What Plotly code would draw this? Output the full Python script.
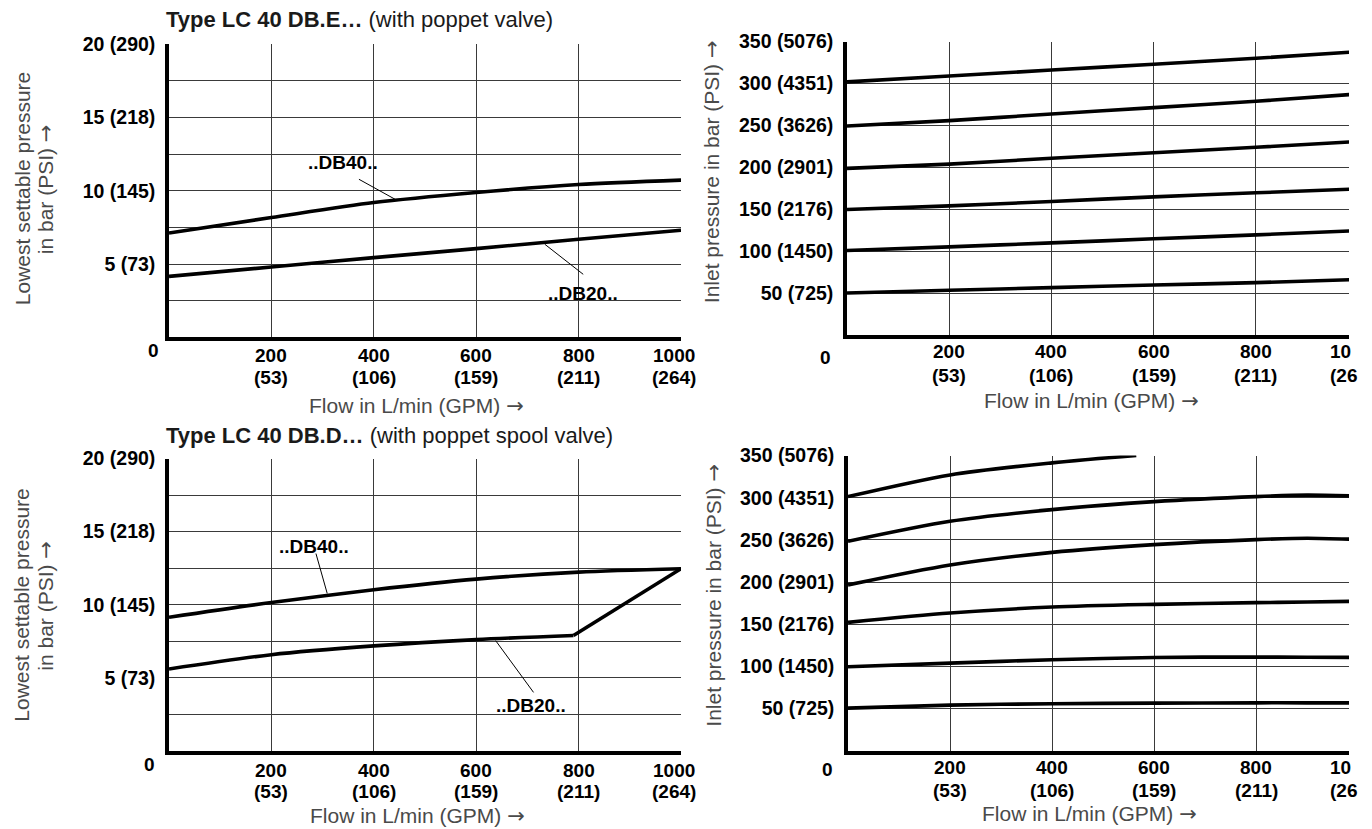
import plotly.graph_objects as go

W, H = 1372, 829

# ---------------- data ----------------
flow = [0, 200, 400, 600, 800, 1000]

# Type LC 40 DB.E... (poppet valve): lowest settable pressure [bar]
e_db40 = [7.12, 8.17, 9.19, 9.88, 10.42, 10.72]
e_db20 = [4.16, 4.80, 5.44, 6.05, 6.69, 7.30]

# Type LC 40 DB.E...: inlet pressure [bar]
e_p300 = [302.0, 309.0, 316.0, 323.0, 330.0, 338.0]
e_p250 = [249.4, 255.8, 263.7, 271.3, 278.9, 287.5]
e_p200 = [198.9, 204.0, 211.0, 217.6, 224.0, 231.0]
e_p150 = [150.0, 154.3, 159.5, 165.0, 169.8, 174.5]
e_p100 = [101.0, 105.4, 110.2, 115.0, 119.7, 124.7]
e_p50 = [50.5, 53.7, 56.9, 60.0, 62.8, 66.5]

# Type LC 40 DB.D... (poppet spool valve): lowest settable pressure [bar]
d_db40 = [9.14, 10.15, 11.02, 11.75, 12.23, 12.46]
d_db20_flow = [0, 200, 400, 600, 790, 1000]
d_db20 = [5.60, 6.58, 7.18, 7.61, 7.89, 12.46]

# Type LC 40 DB.D...: inlet pressure [bar]
d_flow = [0, 200, 400, 600, 800, 900, 1000]
d_p300_flow = [0, 200, 400, 565]
d_p300 = [301.3, 327.0, 341.3, 350.0]
d_p250 = [248.3, 272.0, 285.9, 295.4, 301.3, 303.0, 301.8]
d_p200 = [196.6, 220.3, 235.2, 244.4, 250.3, 252.0, 250.5]
d_p150 = [152.2, 163.3, 170.4, 173.6, 175.6, 176.4, 177.3]
d_p100 = [99.6, 104.0, 108.0, 110.7, 111.1, 111.0, 110.7]
d_p50 = [50.6, 54.2, 55.8, 56.5, 56.9, 56.9, 56.9]

# ticks
x_tickvals = [200, 400, 600, 800, 1000]
x_ticktext = ["200<br>(53)", "400<br>(106)", "600<br>(159)", "800<br>(211)", "1000<br>(264)"]
# right-hand charts are cut off in the source just before 1000 L/min
x_cut_text = "10<br>(26"
low_tickvals = [0, 2.5, 5, 7.5, 10, 12.5, 15, 17.5, 20]
low_ticktext = ["", "", "5 (73)", "", "10 (145)", "", "15 (218)", "", "20 (290)"]
inlet_tickvals = [0, 50, 100, 150, 200, 250, 300, 350]
inlet_ticktext = ["", "50 (725)", "100 (1450)", "150 (2176)", "200 (2901)",
                  "250 (3626)", "300 (4351)", "350 (5076)"]

# ---------------- helpers ----------------
FONT = "Liberation Sans, Arial, Helvetica, sans-serif"
ARROW = "<span style=\"font-family:'DejaVu Sans'\">→</span>"
CURVE = dict(color="black", width=3.6, shape="spline", smoothing=0.8)

# positions below are given in the target picture's pixels; the photographed
# page comes out slightly squeezed and shifted vertically, so map picture
# px -> page px
S_Y = 0.9856
OFF_Y = 11.0


def px(p):
    return p / W


def py(p):
    return 1 - ((p - OFF_Y) / S_Y) / H


fig = go.Figure()


def curve(x, y, ax, shape="spline"):
    ln = dict(CURVE)
    ln["shape"] = shape
    fig.add_trace(go.Scatter(x=x, y=y, mode="lines", line=ln,
                             xaxis="x" + ax, yaxis="y" + ax,
                             hoverinfo="skip", showlegend=False))


# top-left
curve(flow, e_db40, "")
curve(flow, e_db20, "")
# top-right
for ser in [e_p300, e_p250, e_p200, e_p150, e_p100, e_p50]:
    curve(flow, ser, "2")
# bottom-left
curve(flow, d_db40, "3")
curve(d_db20_flow[:5], d_db20[:5], "3")
curve(d_db20_flow[4:], d_db20[4:], "3", shape="linear")
# bottom-right
curve(d_p300_flow, d_p300, "4")
for ser in [d_p250, d_p200, d_p150, d_p100, d_p50]:
    curve(d_flow, ser, "4")

GRID = "#3a3a3a"
ytickfont = dict(family=FONT, size=19.5, color="black", weight="bold")


def xaxis(domain, anchor, rng, tv):
    return dict(domain=domain, anchor=anchor, range=rng,
                tickmode="array", tickvals=tv, showticklabels=False,
                showgrid=True, gridcolor=GRID, gridwidth=1.3,
                showline=True, linecolor="black", linewidth=3.5,
                zeroline=False, ticks="", fixedrange=True)


def yaxis(domain, anchor, rng, tv, tt):
    return dict(domain=domain, anchor=anchor, range=rng,
                tickmode="array", tickvals=tv, ticktext=tt,
                showgrid=True, gridcolor=GRID, gridwidth=1.3,
                showline=True, linecolor="black", linewidth=3.5,
                zeroline=False, ticks="", tickfont=ytickfont,
                ticklabelstandoff=6, fixedrange=True)


RIGHT_RANGE = [0, 982]
fig.update_layout(
    width=W, height=H,
    margin=dict(l=0, r=0, t=0, b=0),
    paper_bgcolor="white", plot_bgcolor="white",
    showlegend=False,
    font=dict(family=FONT, color="black"),
    xaxis=xaxis([px(169), px(681)], "y", [0, 1000], x_tickvals),
    yaxis=yaxis([py(337), py(44)], "x", [0, 20], low_tickvals, low_ticktext),
    xaxis2=xaxis([px(847), px(1349)], "y2", RIGHT_RANGE, x_tickvals[:-1]),
    yaxis2=yaxis([py(335), py(41.5)], "x2", [0, 350], inlet_tickvals, inlet_ticktext),
    xaxis3=xaxis([px(169), px(681)], "y3", [0, 1000], x_tickvals),
    yaxis3=yaxis([py(750), py(458)], "x3", [0, 20], low_tickvals, low_ticktext),
    xaxis4=xaxis([px(848), px(1349)], "y4", RIGHT_RANGE, x_tickvals[:-1]),
    yaxis4=yaxis([py(750), py(455)], "x4", [0, 350], inlet_tickvals, inlet_ticktext),
)

ann = []
TITLE_FONT = dict(family=FONT, size=22, color="#1a1a1a")
AX_FONT = dict(family=FONT, size=21, color="#4a4a4a")
LAB_FONT = dict(family=FONT, size=19, color="black", weight="bold")


def paper_text(text, x, y, font, xanchor="center", angle=0):
    ann.append(dict(text=text, x=px(x), y=py(y), xref="paper", yref="paper",
                    xanchor=xanchor, yanchor="middle", showarrow=False,
                    font=font, textangle=angle))


paper_text("<b>Type LC 40 DB.E…</b> (with poppet valve)", 164, 19, TITLE_FONT, "left")
paper_text("<b>Type LC 40 DB.D…</b> (with poppet spool valve)", 164, 435, TITLE_FONT, "left")

for yc in (189, 605):
    paper_text("Lowest settable pressure", 22, yc, AX_FONT, angle=-90)
    paper_text("in bar (PSI) " + ARROW, 46, yc, AX_FONT, angle=-90)
paper_text("Inlet pressure in bar (PSI) " + ARROW, 712, 172, AX_FONT, angle=-90)
paper_text("Inlet pressure in bar (PSI) " + ARROW, 714, 595, AX_FONT, angle=-90)

paper_text("Flow in L/min (GPM) " + ARROW, 416, 406, AX_FONT)
paper_text("Flow in L/min (GPM) " + ARROW, 1091, 401, AX_FONT)
paper_text("Flow in L/min (GPM) " + ARROW, 417, 815, AX_FONT)
paper_text("Flow in L/min (GPM) " + ARROW, 1089, 813, AX_FONT)

# origin labels
for (x0, y0) in [(153, 350), (825, 357), (149, 764), (827, 769)]:
    paper_text("0", x0, y0, LAB_FONT)

# x tick labels (two rows: L/min and GPM), placed at the axis values
X_ROWS = {"x": (355, 377.5), "x2": (351.5, 375), "x3": (770, 791), "x4": (766.5, 790)}
for xr, (y1, y2) in X_ROWS.items():
    vals = x_tickvals if xr in ("x", "x3") else x_tickvals[:-1]
    for v, t in zip(vals, x_ticktext):
        top, bottom = t.split("<br>")
        shift = -7 if v == 1000 else 0
        for txt, yy in ((top, y1), (bottom, y2)):
            ann.append(dict(text=txt, x=v, xref=xr, y=py(yy), yref="paper",
                            xanchor="center", yanchor="middle", xshift=shift,
                            showarrow=False, font=LAB_FONT))
    if xr in ("x2", "x4"):
        top, bottom = x_cut_text.split("<br>")
        paper_text(top, 1328, y1, LAB_FONT, "left")
        paper_text(bottom, 1328, y2, LAB_FONT, "left")

# curve labels (data coordinates)
LABELS = [("..DB40..", 340, 11.9, "x", "y"), ("..DB20..", 809, 3.0, "x", "y"),
          ("..DB40..", 283, 14.0, "x3", "y3"), ("..DB20..", 707, 3.1, "x3", "y3")]
for t, x, y, xr, yr in LABELS:
    ann.append(dict(text=t, x=x, y=y, xref=xr, yref=yr, showarrow=False,
                    font=LAB_FONT, xanchor="center", yanchor="middle"))

shapes = []
LEADERS = [(371, 10.78, 445, 9.35, "x", "y"), (734, 6.35, 809, 4.30, "x", "y"),
           (287, 13.5, 309, 10.77, "x3", "y3"), (638, 7.54, 712, 4.0, "x3", "y3")]
for x0, y0, x1, y1, xr, yr in LEADERS:
    shapes.append(dict(type="line", x0=x0, y0=y0, x1=x1, y1=y1, xref=xr, yref=yr,
                       line=dict(color="black", width=1)))

fig.update_layout(annotations=ann, shapes=shapes)

fig.write_html("out.html", config={"displayModeBar": False},
               post_script="document.body.style.margin='0px';"
                           "document.documentElement.style.overflow='hidden';")
